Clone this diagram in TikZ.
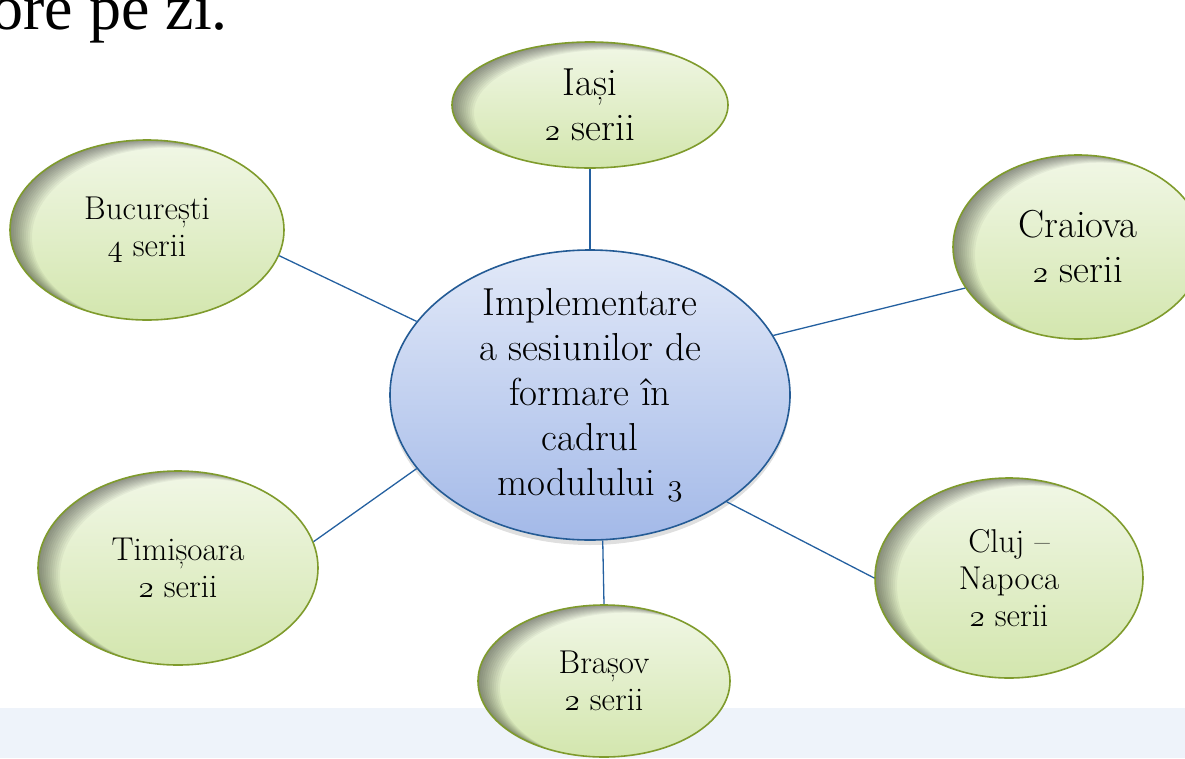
\documentclass[tikz,border=0pt]{standalone}
\usepackage{fontspec}
\newfontfamily\timesfont{Liberation Serif}
\usetikzlibrary{shapes.geometric,shadows,calc}

\definecolor{linkblue}{HTML}{2460A0}
\definecolor{cityline}{HTML}{7F9B2C}
\definecolor{citytop}{HTML}{F1F7E6}
\definecolor{citybot}{HTML}{D3E6AE}
\definecolor{hubline}{HTML}{245B95}
\definecolor{hubtop}{HTML}{E2E9F8}
\definecolor{hubbot}{HTML}{A3B9E8}
\definecolor{bandblue}{HTML}{EEF3FA}

% old style figures
\newcommand\osn[1]{\scalebox{1.25}{\fontencoding{OML}\fontfamily{lmm}\fontshape{it}\selectfont#1}}

\tikzstyle{city}=[ellipse,draw=cityline,line width=1.6pt,inner sep=0pt,align=center,
    top color=citytop,bottom color=citybot,
    path picture={
      \foreach \s in {2,4,...,22}
        \fill[black,opacity=0.045,even odd rule]
          let \p1=(path picture bounding box.north east),
              \p2=(path picture bounding box.south west) in
          (\p2) rectangle (\p1)
          ([xshift=\s pt,yshift=-0.35*\s pt]path picture bounding box.center)
            ellipse [x radius={abs(\x1-\x2)/2}, y radius={abs(\y1-\y2)/2}];
    }]
\tikzstyle{small}=[font=\fontsize{33}{37}\selectfont]
\tikzstyle{large}=[font=\fontsize{39}{45}\selectfont]
\tikzstyle{hub}=[ellipse,draw=hubline,line width=1.6pt,inner sep=0pt,inner ysep=-14pt,
    align=center,top color=hubtop,bottom color=hubbot,
    drop shadow={shadow xshift=0pt,shadow yshift=-5pt,opacity=0.25}]
\tikzstyle{link}=[draw=linkblue,line width=1.3pt]

\begin{document}
\begin{tikzpicture}[x=1pt,y=-1pt]
    \useasboundingbox (0,0) rectangle (1185,758);
    \clip (0,0) rectangle (1185,758);
    %Background band and slide text
    \fill[bandblue] (0,708) rectangle (1185,758);
    \node[font=\timesfont\fontsize{64}{70}\selectfont,anchor=base east,inner sep=0pt] (note) at (228,29) {ore pe zi.};
    %The centre
    \node[hub,large,minimum width=400pt,minimum height=290pt] (c) at (590,395)
        {Implementare\\a sesiunilor de\\formare în\\cadrul\\modulului \osn{3}};
    %The cities
    \node[city,large,minimum width=276pt,minimum height=126pt] (iasi) at (590,105) {Iași\\\osn{2} serii};
    \node[city,small,minimum width=274pt,minimum height=180pt] (buc) at (147,230) {București\\\osn{4} serii};
    \node[city,large,minimum width=250pt,minimum height=184pt] (cra) at (1078,247) {Craiova\\\osn{2} serii};
    \node[city,small,minimum width=280pt,minimum height=194pt] (timi) at (178,568) {Timișoara\\\osn{2} serii};
    \node[city,small,minimum width=268pt,minimum height=200pt] (cluj) at (1009,578) {Cluj –\\Napoca\\\osn{2} serii};
    \node[city,small,minimum width=252pt,minimum height=152pt] (bras) at (604,681) {Brașov\\\osn{2} serii};
    %Links
    \draw[link] (iasi.south) -- (c.north);
    \draw[link] (buc.-11) -- (c.157);
    \draw[link] (cra.200) -- (c.18);
    \draw[link] (timi.11) -- (c.203);
    \draw[link] (cluj.west) -- (c.-38);
    \draw[link] (bras.north) -- (c.-85);
\end{tikzpicture}
\end{document}
